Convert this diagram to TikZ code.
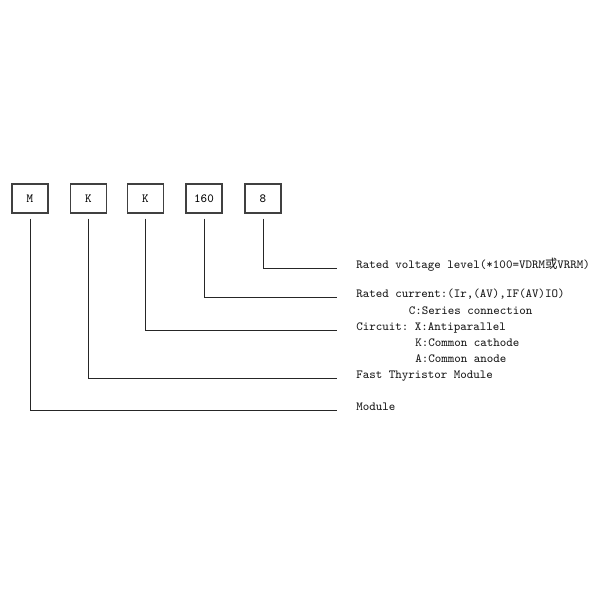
\documentclass[tikz,border=0pt]{standalone}
\usepackage{fontspec}
\newfontfamily\cjkfont{Noto Sans CJK SC}
\usepackage{tikz}
\usetikzlibrary{positioning}
\frenchspacing
\tikzstyle{codebox} = [draw=black!75,line width=0.8pt,minimum width=27pt,minimum height=21.75pt,inner sep=0pt,font=\fontsize{9.3}{11}\ttfamily]
\tikzstyle{desc} = [anchor=base west,inner sep=0pt,text=black!90,font=\fontsize{9.3}{12}\ttfamily]
\tikzstyle{lead} = [line width=0.6pt,black!85,shorten <=3.75pt]

\begin{document}
\begin{tikzpicture}[x=0.75pt,y=-0.75pt]
	\useasboundingbox (0,0) rectangle (600,600);
	% Code boxes:
	\foreach \name/\x/\txt in {bm/30/M,bk/88.5/K,bc/145.5/K,bi/204/160,bv/263/8}{%
		\node [codebox] (\name) at (\x,198.5) {\txt};
	}
	% Descriptions:
	\node [desc] (lvolt) at (356,268)   {Rated voltage level(*100=VDRM{\cjkfont 或}VRRM)};
	\node [desc] (lcur)  at (356,297.5) {Rated current:(Ir,(AV),IF(AV)IO)};
	\node [desc] (lser)  at (408.5,314) {C:Series connection};
	\node [desc] (lcir)  at (356,330)   {Circuit: X:Antiparallel};
	\node [desc] (lcat)  at (415,346)   {K:Common cathode};
	\node [desc] (lano)  at (415,362)   {A:Common anode};
	\node [desc] (lfast) at (356,378)   {Fast Thyristor Module};
	\node [desc] (lmod)  at (356,410.5) {Module};
	% Leader lines from the boxes to the descriptions:
	\draw [lead] (bv.south) |- ([xshift=-14.25pt]lvolt.base west);
	\draw [lead] (bi.south) |- ([xshift=-14.25pt]lcur.base west);
	\draw [lead] (bc.south) |- ([xshift=-14.25pt]lcir.base west);
	\draw [lead] (bk.south) |- ([xshift=-14.25pt]lfast.base west);
	\draw [lead] (bm.south) |- ([xshift=-14.25pt]lmod.base west);
\end{tikzpicture}
\end{document}
